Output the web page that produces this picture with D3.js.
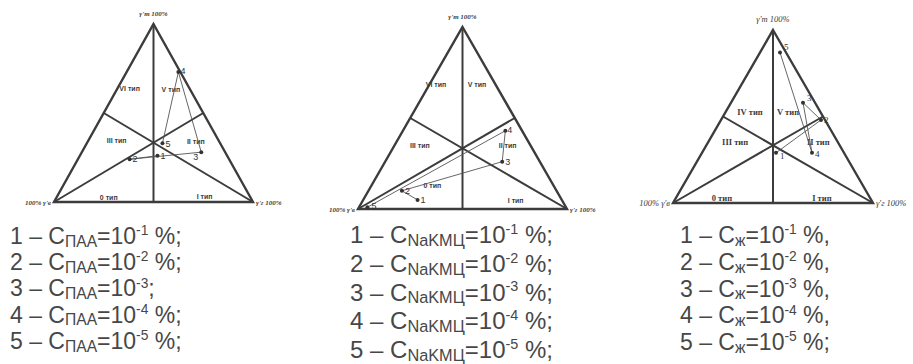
<!DOCTYPE html>
<html>
<head>
<meta charset="utf-8">
<script src="https://cdn.jsdelivr.net/npm/d3@7"></script>
<style>
  body { margin: 0; background: #fff; }
</style>
</head>
<body>
<svg id="chart" width="913" height="364"></svg>
<script>
// Points as ternary shares in %: [top γ'т, right γ'г, left γ'в]
const pointNames = ['1', '2', '3', '4', '5'];
const paaPoints = [[26, 39, 35], [24, 26, 50], [28, 60, 12], [73, 26, 1], [33, 38, 29]];
const cmcPoints = [[5, 26, 69], [10, 16, 74], [26, 56, 18], [43, 49, 8], [1, 4, 95]];
const liquidPoints = [[29, 37, 34], [48, 50, 2], [58, 36, 6], [29, 55, 16], [87, 10, 3]];

const typesA = ['VI тип', 'V тип', 'III тип', 'II тип', '0 тип', 'I тип'];
const typesB = ['IV тип', 'V тип', 'III тип', 'II тип', '0 тип', 'I тип'];
const vertexLabels = ["γ'т 100%", "γ'г 100%", "100% γ'в"];

const legendSubs = ['ПАА', 'NaKMЦ', 'ж'];
const legendExps = ['-1', '-2', '-3', '-4', '-5'];
const paaTails = [' %;', ' %;', ';', ' %;', ' %;'];
const cmcTails = [' %;', ' %;', ' %;', ' %;', ' %;'];
const liquidTails = [' %,', ' %,', ' %,', ' %,', ' %;'];

// layout of each panel (pixels), type labels placed by [top, right] share
const panels = [
  {
    x0: 54, x1: 253, yBase: 202, yTop: 24,
    points: paaPoints, types: typesA, serif: false,
    typePos: [[64, 6], [63.5, 27], [35, 14], [34.5, 54], [3, 26], [3.4, 74]],
    numOffset: [[3, 3], [3, 3], [-8, 8], [2, 2], [3, 4]],
    sub: legendSubs[0], tails: paaTails,
    legendX: 10, legendY: 244, legendStep: 26.2, legendSize: 23
  },
  {
    x0: 358, x1: 567, yBase: 209, yTop: 27,
    points: cmcPoints, types: typesA, serif: false,
    typePos: [[68.7, 3], [68.7, 22.6], [35.2, 12], [35.2, 54], [13.2, 29], [4.9, 73]],
    numOffset: [[3, 3], [3, 3], [3, 3], [2, 2], [4, 2]],
    sub: legendSubs[1], tails: cmcTails,
    legendX: 350, legendY: 243, legendStep: 28.8, legendSize: 24
  },
  {
    x0: 673, x1: 873, yBase: 203, yTop: 30,
    points: liquidPoints, types: typesB, serif: true,
    typePos: [[52.6, 12.2], [52.6, 31.2], [35.3, 13.4], [35.3, 55], [2.9, 23], [2.9, 73]],
    numOffset: [[4, 6], [3, 3], [4, -2], [3, 4], [4, -2]],
    sub: legendSubs[2], tails: liquidTails,
    legendX: 680, legendY: 243, legendStep: 26.8, legendSize: 23
  }
];

const svg = d3.select('#chart');
const ink = '#3c3c3c';

panels.forEach(p => {
  const g = svg.append('g');
  const xs = d3.scaleLinear().domain([0, 100]).range([p.x0, p.x1]);
  const ys = d3.scaleLinear().domain([0, 100]).range([p.yBase, p.yTop]);
  // ternary -> pixel
  const px = d => [xs(d[1] + d[0] / 2), ys(d[0])];

  const apex = px([100, 0, 0]);
  const right = px([0, 100, 0]);
  const left = px([0, 0, 100]);

  // outline
  g.append('path')
    .attr('d', d3.line()([apex, right, left]) + 'Z')
    .attr('fill', 'none')
    .attr('stroke', ink)
    .attr('stroke-width', 2.4)
    .attr('stroke-linejoin', 'miter');

  // medians splitting the type areas
  const medians = [
    [[100, 0, 0], [0, 50, 50]],
    [[0, 0, 100], [50, 50, 0]],
    [[0, 100, 0], [50, 0, 50]]
  ];
  g.selectAll('.median')
    .data(medians)
    .join('line')
    .attr('x1', d => px(d[0])[0]).attr('y1', d => px(d[0])[1])
    .attr('x2', d => px(d[1])[0]).attr('y2', d => px(d[1])[1])
    .attr('stroke', ink)
    .attr('stroke-width', 2);

  // type labels
  g.selectAll('.type')
    .data(p.types)
    .join('text')
    .attr('x', (d, i) => px([p.typePos[i][0], p.typePos[i][1], 0])[0])
    .attr('y', (d, i) => px([p.typePos[i][0], p.typePos[i][1], 0])[1] + 3)
    .attr('text-anchor', 'middle')
    .attr('font-family', p.serif ? 'Liberation Serif' : 'Liberation Sans')
    .attr('font-weight', 'bold')
    .attr('font-size', p.serif ? 8.5 : 7)
    .attr('fill', ink)
    .text(d => d);

  // vertex labels
  const vfont = p.serif ? 'Liberation Serif' : 'Liberation Serif';
  g.append('text')
    .attr('x', apex[0]).attr('y', apex[1] - 8)
    .attr('text-anchor', 'middle')
    .attr('font-family', vfont).attr('font-style', 'italic')
    .attr('font-weight', p.serif ? 'normal' : 'bold')
    .attr('font-size', p.serif ? 8.5 : 7)
    .attr('fill', ink)
    .text(vertexLabels[0]);
  g.append('text')
    .attr('x', right[0] + 3).attr('y', right[1] + 3)
    .attr('font-family', vfont).attr('font-style', 'italic')
    .attr('font-weight', p.serif ? 'normal' : 'bold')
    .attr('font-size', p.serif ? 8.5 : 7)
    .attr('fill', ink)
    .text(vertexLabels[1]);
  g.append('text')
    .attr('x', left[0] - 3).attr('y', left[1] + 3)
    .attr('text-anchor', 'end')
    .attr('font-family', vfont).attr('font-style', 'italic')
    .attr('font-weight', p.serif ? 'normal' : 'bold')
    .attr('font-size', p.serif ? 8.5 : 7)
    .attr('fill', ink)
    .text(vertexLabels[2]);

  // data path 1 -> 5
  g.append('path')
    .attr('d', d3.line()(p.points.map(px)))
    .attr('fill', 'none')
    .attr('stroke', '#555')
    .attr('stroke-width', 0.9);

  g.selectAll('.pt')
    .data(p.points)
    .join('circle')
    .attr('cx', d => px(d)[0])
    .attr('cy', d => px(d)[1])
    .attr('r', 2)
    .attr('fill', '#333');

  g.selectAll('.num')
    .data(p.points)
    .join('text')
    .attr('x', (d, i) => px(d)[0] + p.numOffset[i][0])
    .attr('y', (d, i) => px(d)[1] + p.numOffset[i][1])
    .attr('font-family', p.serif ? 'Liberation Serif' : 'Liberation Sans')
    .attr('font-size', 9)
    .attr('fill', '#333')
    .text((d, i) => pointNames[i]);

  // legend
  const legend = g.append('g')
    .attr('font-family', 'Liberation Sans')
    .attr('fill', '#474747');
  pointNames.forEach((name, i) => {
    const t = legend.append('text')
      .attr('x', p.legendX)
      .attr('y', p.legendY + i * p.legendStep)
      .attr('font-size', p.legendSize);
    const s = p.legendSize;
    t.append('tspan').text(`${name} – C`);
    t.append('tspan').attr('font-size', s * 0.68).attr('dy', s * 0.12).text(p.sub);
    t.append('tspan').attr('dy', -s * 0.12).text('=10');
    t.append('tspan').attr('font-size', s * 0.6).attr('dy', -s * 0.38).text(legendExps[i]);
    t.append('tspan').attr('dy', s * 0.38).text(p.tails[i]);
  });
});
</script>
</body>
</html>
